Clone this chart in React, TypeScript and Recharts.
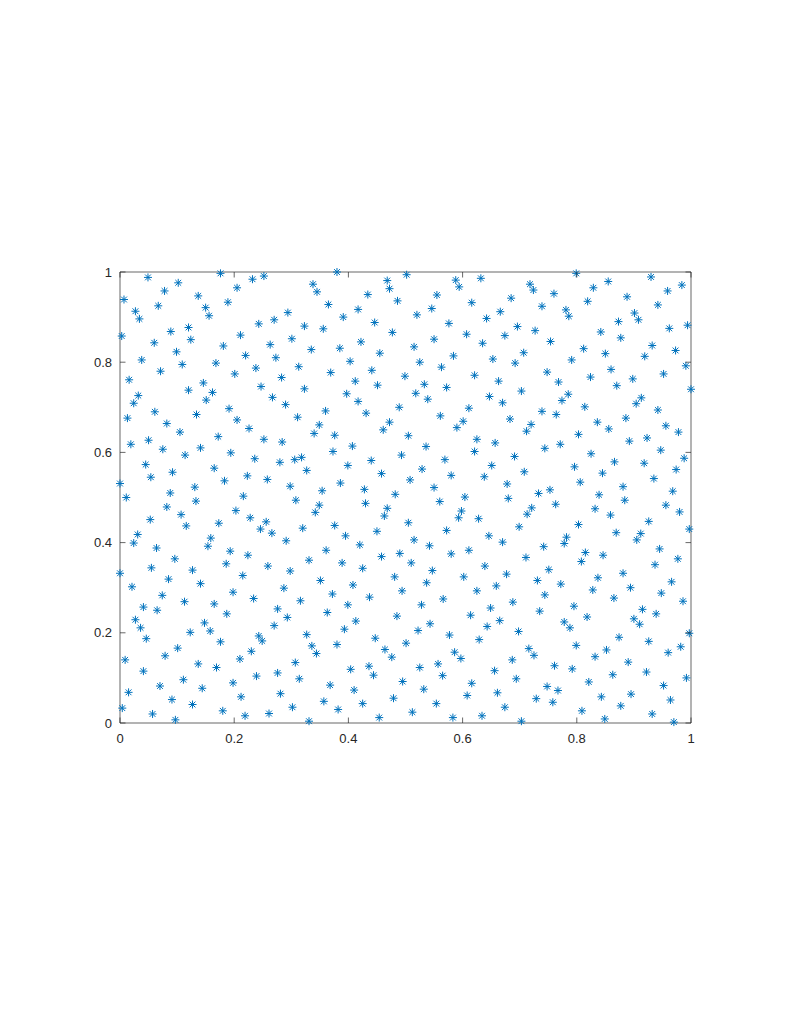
import { ScatterChart, Scatter, XAxis, YAxis, ReferenceLine } from 'recharts';

// point sets, grouped by horizontal band
const upperBand: [number, number][] = [
  [0.049, 0.988], [0.102, 0.976], [0.176, 0.997], [0.232, 0.984], [0.078, 0.958], [0.137, 0.947], [0.205, 0.965],
  [0.007, 0.939], [0.067, 0.925], [0.189, 0.933], [0.027, 0.913], [0.150, 0.921], [0.034, 0.896], [0.156, 0.903],
  [0.243, 0.885], [0.120, 0.877], [0.089, 0.868], [0.003, 0.858], [0.211, 0.860], [0.060, 0.843], [0.124, 0.850],
  [0.181, 0.836], [0.099, 0.823], [0.220, 0.815], [0.038, 0.805], [0.109, 0.795], [0.168, 0.798], [0.238, 0.787],
  [0.071, 0.780], [0.201, 0.774], [0.016, 0.761], [0.146, 0.754], [0.120, 0.738], [0.162, 0.733], [0.032, 0.726],
  [0.151, 0.716], [0.024, 0.709], [0.191, 0.697], [0.061, 0.690], [0.134, 0.684], [0.013, 0.676], [0.205, 0.672],
  [0.252, 0.991], [0.380, 1.000], [0.338, 0.973], [0.345, 0.956], [0.468, 0.981], [0.472, 0.963], [0.434, 0.950],
  [0.486, 0.936], [0.365, 0.928], [0.294, 0.910], [0.417, 0.917], [0.391, 0.900], [0.270, 0.894], [0.323, 0.880],
  [0.356, 0.874], [0.446, 0.888], [0.477, 0.866], [0.301, 0.852], [0.422, 0.845], [0.263, 0.839], [0.385, 0.831],
  [0.335, 0.828], [0.455, 0.820], [0.273, 0.810], [0.403, 0.802], [0.313, 0.790], [0.441, 0.782], [0.369, 0.777],
  [0.283, 0.766], [0.412, 0.758], [0.247, 0.746], [0.451, 0.749], [0.323, 0.741], [0.397, 0.730], [0.267, 0.722],
  [0.417, 0.713], [0.290, 0.706], [0.489, 0.700], [0.360, 0.692], [0.431, 0.687], [0.311, 0.678],
  [0.502, 0.994], [0.588, 0.982], [0.594, 0.967], [0.632, 0.986], [0.718, 0.973], [0.724, 0.960], [0.555, 0.949],
  [0.616, 0.932], [0.685, 0.942], [0.739, 0.924], [0.546, 0.919], [0.520, 0.905], [0.666, 0.912], [0.642, 0.897],
  [0.576, 0.886], [0.696, 0.879], [0.727, 0.870], [0.607, 0.862], [0.550, 0.851], [0.674, 0.859], [0.515, 0.834],
  [0.635, 0.842], [0.584, 0.814], [0.707, 0.821], [0.525, 0.800], [0.653, 0.807], [0.563, 0.789], [0.692, 0.798],
  [0.499, 0.769], [0.621, 0.771], [0.663, 0.758], [0.533, 0.751], [0.572, 0.744], [0.518, 0.731], [0.703, 0.736],
  [0.539, 0.718], [0.647, 0.724], [0.670, 0.710], [0.611, 0.698], [0.561, 0.681], [0.739, 0.691], [0.683, 0.674],
  [0.799, 0.997], [0.855, 0.979], [0.930, 0.989], [0.984, 0.971], [0.829, 0.965], [0.959, 0.958], [0.760, 0.952],
  [0.888, 0.945], [0.819, 0.935], [0.942, 0.927], [0.781, 0.916], [0.786, 0.902], [0.901, 0.909], [0.908, 0.894],
  [0.873, 0.890], [0.962, 0.875], [0.994, 0.882], [0.842, 0.867], [0.877, 0.854], [0.754, 0.846], [0.932, 0.837],
  [0.812, 0.830], [0.973, 0.826], [0.850, 0.819], [0.919, 0.813], [0.791, 0.805], [0.991, 0.792], [0.748, 0.778],
  [0.860, 0.784], [0.952, 0.774], [0.824, 0.767], [0.898, 0.763], [0.768, 0.756], [0.870, 0.748], [1.000, 0.740],
  [0.785, 0.729], [0.913, 0.721], [0.774, 0.715], [0.904, 0.708], [0.814, 0.701], [0.942, 0.694], [0.764, 0.684],
  [0.886, 0.676],
];

const middleBand: [number, number][] = [
  [0.082, 0.664], [0.105, 0.645], [0.226, 0.653], [0.019, 0.618], [0.050, 0.627], [0.075, 0.607], [0.114, 0.594],
  [0.141, 0.610], [0.172, 0.635], [0.194, 0.599], [0.236, 0.586], [0.045, 0.573], [0.054, 0.545], [0.092, 0.556],
  [0.165, 0.565], [0.183, 0.537], [0.223, 0.548], [0.000, 0.531], [0.131, 0.523], [0.088, 0.510], [0.011, 0.500],
  [0.133, 0.492], [0.216, 0.503], [0.082, 0.479], [0.107, 0.462], [0.203, 0.471], [0.053, 0.451], [0.228, 0.455],
  [0.116, 0.437], [0.173, 0.443], [0.031, 0.418], [0.024, 0.399], [0.159, 0.410], [0.154, 0.392], [0.064, 0.388],
  [0.193, 0.381], [0.224, 0.372], [0.096, 0.364], [0.186, 0.353], [0.055, 0.344], [0.127, 0.339],
  [0.349, 0.661], [0.340, 0.642], [0.376, 0.638], [0.472, 0.667], [0.461, 0.650], [0.252, 0.629], [0.284, 0.623],
  [0.407, 0.614], [0.373, 0.602], [0.493, 0.594], [0.280, 0.578], [0.306, 0.584], [0.318, 0.589], [0.327, 0.560],
  [0.399, 0.571], [0.440, 0.582], [0.458, 0.553], [0.258, 0.540], [0.298, 0.525], [0.354, 0.515], [0.386, 0.532],
  [0.428, 0.518], [0.482, 0.507], [0.308, 0.494], [0.349, 0.483], [0.430, 0.487], [0.342, 0.467], [0.468, 0.476],
  [0.463, 0.459], [0.256, 0.446], [0.246, 0.430], [0.266, 0.421], [0.320, 0.432], [0.376, 0.438], [0.395, 0.415],
  [0.450, 0.425], [0.291, 0.404], [0.420, 0.395], [0.361, 0.383], [0.458, 0.369], [0.490, 0.376], [0.331, 0.361],
  [0.389, 0.355], [0.259, 0.348], [0.298, 0.337], [0.425, 0.343],
  [0.601, 0.669], [0.590, 0.655], [0.720, 0.662], [0.712, 0.647], [0.505, 0.637], [0.625, 0.629], [0.657, 0.621],
  [0.536, 0.613], [0.621, 0.602], [0.744, 0.609], [0.691, 0.591], [0.569, 0.584], [0.529, 0.563], [0.651, 0.571],
  [0.708, 0.557], [0.580, 0.549], [0.638, 0.546], [0.508, 0.539], [0.678, 0.530], [0.550, 0.522], [0.733, 0.509],
  [0.604, 0.501], [0.680, 0.498], [0.560, 0.491], [0.721, 0.477], [0.713, 0.463], [0.598, 0.470], [0.593, 0.455],
  [0.628, 0.453], [0.505, 0.444], [0.699, 0.435], [0.572, 0.427], [0.646, 0.415], [0.515, 0.406], [0.670, 0.401],
  [0.542, 0.393], [0.742, 0.391], [0.580, 0.375], [0.611, 0.383], [0.711, 0.367], [0.510, 0.355], [0.639, 0.348],
  [0.547, 0.338],
  [0.836, 0.667], [0.856, 0.652], [0.956, 0.659], [0.978, 0.645], [0.803, 0.640], [0.771, 0.618], [0.892, 0.625],
  [0.923, 0.632], [0.825, 0.597], [0.947, 0.605], [0.988, 0.587], [0.866, 0.579], [0.796, 0.568], [0.918, 0.576],
  [0.845, 0.554], [0.974, 0.562], [0.935, 0.542], [0.806, 0.534], [0.753, 0.517], [0.881, 0.524], [0.968, 0.514],
  [0.839, 0.506], [0.884, 0.494], [0.763, 0.485], [0.832, 0.475], [0.956, 0.483], [0.980, 0.468], [0.859, 0.461],
  [0.926, 0.447], [0.803, 0.440], [0.997, 0.430], [0.869, 0.422], [0.912, 0.420], [0.782, 0.412], [0.905, 0.406],
  [0.778, 0.398], [0.945, 0.386], [0.815, 0.378], [0.846, 0.372], [0.808, 0.358], [0.977, 0.364], [0.937, 0.351],
  [0.751, 0.340],
];

const lowerBand: [number, number][] = [
  [0.000, 0.332], [0.215, 0.327], [0.085, 0.319], [0.021, 0.302], [0.141, 0.309], [0.198, 0.290], [0.074, 0.283],
  [0.234, 0.276], [0.113, 0.269], [0.165, 0.264], [0.041, 0.257], [0.065, 0.250], [0.187, 0.242], [0.027, 0.229],
  [0.036, 0.211], [0.148, 0.222], [0.158, 0.204], [0.123, 0.201], [0.046, 0.187], [0.243, 0.193], [0.176, 0.180],
  [0.101, 0.166], [0.009, 0.140], [0.079, 0.149], [0.230, 0.159], [0.137, 0.131], [0.210, 0.142], [0.169, 0.123],
  [0.041, 0.115], [0.239, 0.104], [0.111, 0.096], [0.070, 0.082], [0.198, 0.089], [0.015, 0.068], [0.144, 0.077],
  [0.212, 0.058], [0.091, 0.052], [0.004, 0.033], [0.127, 0.041], [0.180, 0.027], [0.057, 0.020], [0.219, 0.016],
  [0.097, 0.007],
  [0.351, 0.316], [0.481, 0.324], [0.287, 0.299], [0.408, 0.306], [0.494, 0.293], [0.372, 0.286], [0.316, 0.271],
  [0.437, 0.279], [0.399, 0.262], [0.276, 0.253], [0.363, 0.245], [0.485, 0.237], [0.293, 0.234], [0.413, 0.226],
  [0.270, 0.216], [0.393, 0.208], [0.249, 0.182], [0.327, 0.196], [0.447, 0.188], [0.336, 0.171], [0.380, 0.174],
  [0.464, 0.163], [0.344, 0.154], [0.476, 0.146], [0.307, 0.134], [0.404, 0.119], [0.436, 0.126], [0.276, 0.111],
  [0.444, 0.106], [0.314, 0.098], [0.495, 0.092], [0.368, 0.084], [0.410, 0.073], [0.281, 0.065], [0.357, 0.048],
  [0.479, 0.055], [0.302, 0.035], [0.425, 0.043], [0.382, 0.030], [0.261, 0.021], [0.454, 0.012], [0.331, 0.004],
  [0.602, 0.324], [0.677, 0.330], [0.731, 0.316], [0.537, 0.311], [0.625, 0.293], [0.659, 0.304], [0.744, 0.284],
  [0.566, 0.275], [0.688, 0.268], [0.528, 0.262], [0.649, 0.255], [0.735, 0.248], [0.614, 0.239], [0.665, 0.227],
  [0.543, 0.220], [0.522, 0.205], [0.643, 0.214], [0.577, 0.195], [0.698, 0.203], [0.501, 0.177], [0.629, 0.185],
  [0.716, 0.165], [0.586, 0.157], [0.597, 0.143], [0.725, 0.150], [0.687, 0.140], [0.557, 0.131], [0.525, 0.123],
  [0.656, 0.116], [0.565, 0.105], [0.694, 0.098], [0.616, 0.088], [0.532, 0.075], [0.661, 0.067], [0.608, 0.061],
  [0.729, 0.054], [0.554, 0.043], [0.674, 0.035], [0.512, 0.024], [0.583, 0.012], [0.634, 0.016], [0.703, 0.004],
  [0.837, 0.322], [0.881, 0.332], [0.966, 0.313], [0.772, 0.308], [0.828, 0.295], [0.894, 0.300], [0.948, 0.288],
  [0.865, 0.277], [0.986, 0.270], [0.795, 0.259], [0.915, 0.252], [0.818, 0.235], [0.939, 0.242], [0.778, 0.224],
  [0.900, 0.231], [0.788, 0.211], [0.910, 0.219], [0.997, 0.199], [0.874, 0.190], [0.926, 0.181], [0.799, 0.172],
  [0.982, 0.169], [0.852, 0.162], [0.960, 0.156], [0.832, 0.147], [0.890, 0.135], [0.761, 0.127], [0.792, 0.120],
  [0.922, 0.113], [0.863, 0.107], [0.992, 0.100], [0.821, 0.091], [0.748, 0.081], [0.767, 0.072], [0.952, 0.083],
  [0.895, 0.064], [0.843, 0.058], [0.964, 0.051], [0.758, 0.046], [0.877, 0.038], [0.809, 0.027], [0.932, 0.020],
  [0.849, 0.009], [0.970, 0.002],
];

const xTicks = [0, 0.2, 0.4, 0.6, 0.8, 1];
const yTicks = [0, 0.2, 0.4, 0.6, 0.8, 1];

const points = [...upperBand, ...middleBand, ...lowerBand].map(([x, y]) => ({ x, y }));

const W = 769;
const H = 990;
const PLOT_W = 571;
const PLOT_H = 451;
const AXIS = '#262626';
const TICK_LEN = 5.5;
const FONT = '"Liberation Sans", Arial, Helvetica, sans-serif';
const X_MARGIN = 11;
const Y_MARGIN = 8;

const fmt = (v: number) => String(v);

function BottomTick(props: any) {
  const { x, y, payload } = props;
  const base = y - X_MARGIN;
  return (
    <g>
      <line x1={x} y1={base} x2={x} y2={base - TICK_LEN} stroke={AXIS} strokeWidth={0.7} />
      <line x1={x} y1={base - PLOT_H} x2={x} y2={base - PLOT_H + TICK_LEN} stroke={AXIS} strokeWidth={0.7} />
      <text x={x} y={y} dy="0.71em" textAnchor="middle" fontSize={13} fontFamily={FONT} fill={AXIS}>
        {fmt(payload.value)}
      </text>
    </g>
  );
}

function LeftTick(props: any) {
  const { x, y, payload } = props;
  const base = x + Y_MARGIN;
  return (
    <g>
      <line x1={base} y1={y} x2={base + TICK_LEN} y2={y} stroke={AXIS} strokeWidth={0.7} />
      <line x1={base + PLOT_W} y1={y} x2={base + PLOT_W - TICK_LEN} y2={y} stroke={AXIS} strokeWidth={0.7} />
      <text x={x} y={y} dy="0.355em" textAnchor="end" fontSize={13} fontFamily={FONT} fill={AXIS}>
        {fmt(payload.value)}
      </text>
    </g>
  );
}

function Star(props: any) {
  const { cx, cy } = props;
  const r = 4;
  const d = 2.9;
  return (
    <path
      d={`M${cx - r},${cy}H${cx + r}M${cx},${cy - r}V${cy + r}M${cx - d},${cy - d}L${cx + d},${cy + d}M${cx - d},${cy + d}L${cx + d},${cy - d}`}
      stroke="#0072BD"
      strokeWidth={1}
      fill="none"
    />
  );
}

export default function App() {
  return (
    <div style={{ width: W, height: H, background: '#fff' }}>
      <ScatterChart width={W} height={H} margin={{ top: 264, right: 86, bottom: 245, left: 72 }}>
        <XAxis
          type="number"
          dataKey="x"
          domain={[0, 1]}
          ticks={xTicks}
          interval={0}
          height={30}
          tickSize={0}
          tickMargin={X_MARGIN}
          tick={<BottomTick />}
          axisLine={{ stroke: AXIS, strokeWidth: 0.7 }}
          tickLine={false}
        />
        <YAxis
          type="number"
          dataKey="y"
          domain={[0, 1]}
          ticks={yTicks}
          interval={0}
          width={40}
          tickSize={0}
          tickMargin={Y_MARGIN}
          tick={<LeftTick />}
          axisLine={{ stroke: AXIS, strokeWidth: 0.7 }}
          tickLine={false}
        />
        <ReferenceLine y={1} stroke={AXIS} strokeWidth={0.7} />
        <ReferenceLine x={1} stroke={AXIS} strokeWidth={0.7} />
        <Scatter data={points} isAnimationActive={false} shape={<Star />} />
      </ScatterChart>
    </div>
  );
}
